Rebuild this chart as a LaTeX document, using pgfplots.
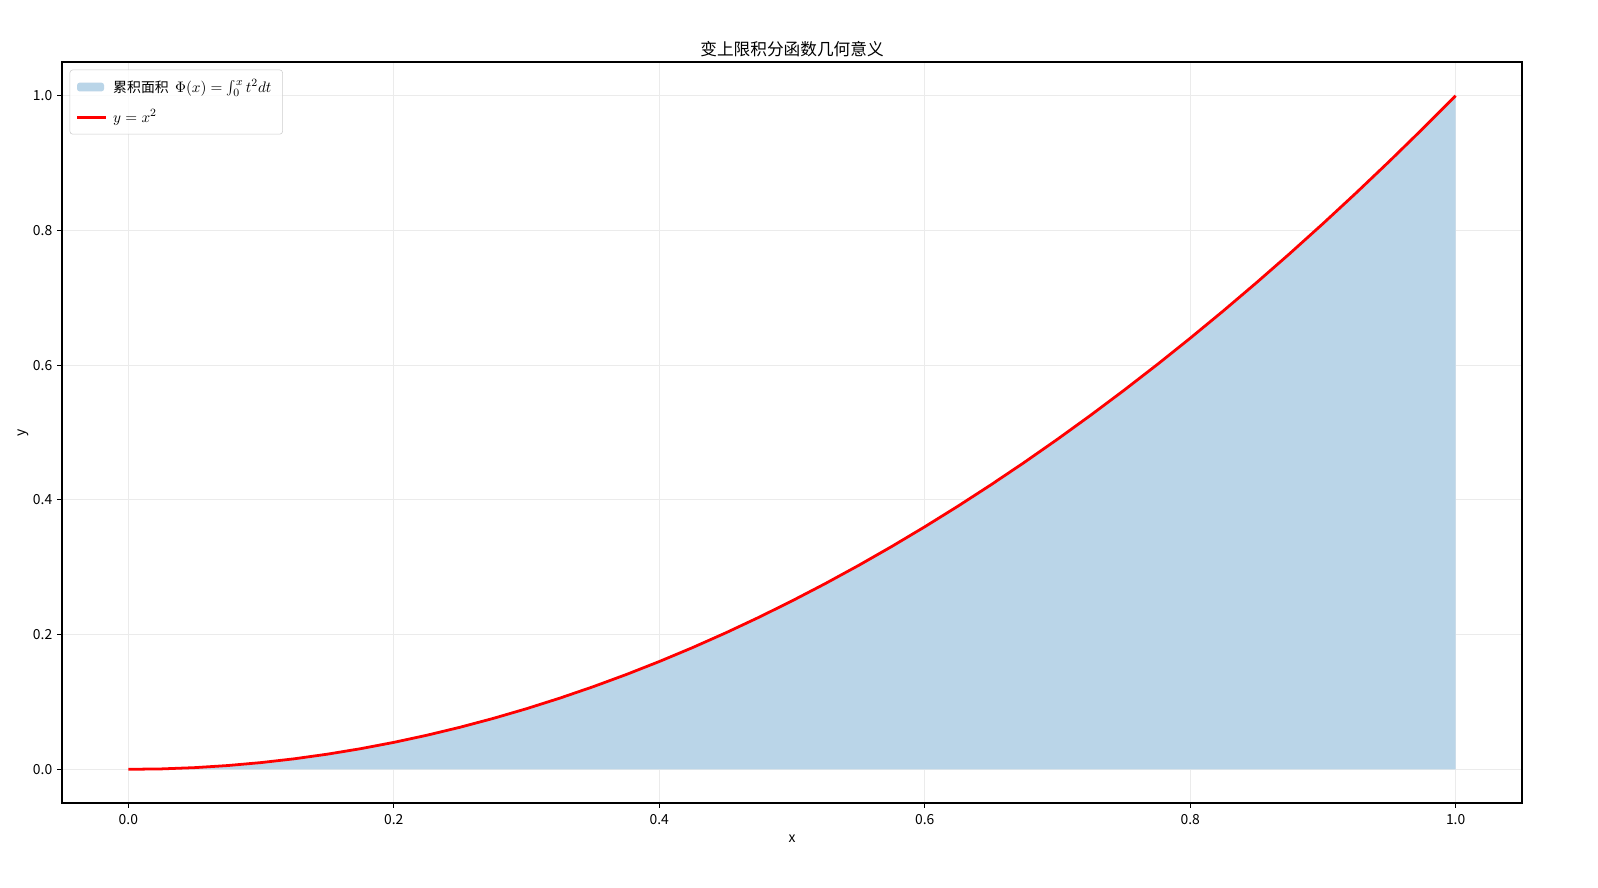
\documentclass[border=0pt]{standalone}
\usepackage{pgfplots}
\usepackage{pgfplotstable}
\pgfplotsset{compat=1.18}
\usepackage{fontspec}
\setmainfont{Noto Sans CJK SC}
\setsansfont{Noto Sans CJK SC}

\definecolor{areablue}{HTML}{BAD5E8}
\definecolor{gridgray}{HTML}{EBEBEB}

% y = x^2, sampled on [0,1]
\pgfplotstableread{
x y
0 0
0.025 0.000625
0.05 0.0025
0.075 0.005625
0.1 0.01
0.125 0.015625
0.15 0.0225
0.175 0.030625
0.2 0.04
0.225 0.050625
0.25 0.0625
0.275 0.075625
0.3 0.09
0.325 0.105625
0.35 0.1225
0.375 0.140625
0.4 0.16
0.425 0.180625
0.45 0.2025
0.475 0.225625
0.5 0.25
0.525 0.275625
0.55 0.3025
0.575 0.330625
0.6 0.36
0.625 0.390625
0.65 0.4225
0.675 0.455625
0.7 0.49
0.725 0.525625
0.75 0.5625
0.775 0.600625
0.8 0.64
0.825 0.680625
0.85 0.7225
0.875 0.765625
0.9 0.81
0.925 0.855625
0.95 0.9025
0.975 0.950625
1 1
}\curve

\begin{document}
\begin{tikzpicture}
\path[use as bounding box] (-44.64pt,-61.2pt) rectangle (1105.92pt,578.16pt);
\begin{axis}[
    at={(0,0)}, anchor=south west,
    scale only axis,
    width=1051.2pt, height=533.5pt,
    xmin=-0.05, xmax=1.05,
    ymin=-0.05, ymax=1.05,
    xtick={0,0.2,0.4,0.6,0.8,1.0},
    ytick={0,0.2,0.4,0.6,0.8,1.0},
    /pgf/number format/assume math mode=true,
    /pgf/number format/fixed,
    /pgf/number format/fixed zerofill,
    /pgf/number format/precision=1,
    tick label style={font=\fontsize{10}{12}\selectfont},
    xticklabel style={yshift=-1.5pt},
    tick align=outside,
    major tick length=3.5pt,
    xtick pos=bottom, ytick pos=left,
    axis line style={line width=0.8pt},
    tick style={line width=0.8pt, black},
    grid=major,
    major grid style={line width=0.8pt, gridgray},
    xlabel={x}, ylabel={y},
    label style={font=\fontsize{10}{12}\selectfont},
    ylabel style={yshift=-4pt},
    title={变上限积分函数几何意义},
    title style={font=\fontsize{12}{14}\selectfont, yshift=-6pt},
    legend cell align=left,
    legend style={
        at={(0,1)}, anchor=north west,
        xshift=5.5pt, yshift=-5.5pt,
        draw=gray!40, rounded corners=2pt,
        fill=white, fill opacity=0.8, draw opacity=1, text opacity=1,
        font=\fontsize{10}{12}\selectfont,
        row sep=7pt, inner xsep=4pt, inner ysep=5pt,
        nodes={inner xsep=4pt},
    },
]
\addplot[fill=areablue, draw=none,
    legend image code/.code={\fill[areablue, fill opacity=1] (0pt,-3.2pt) rectangle (19.5pt,3.2pt);}]
    table[x=x, y=y] {\curve} \closedcycle;
\addlegendentry{累积面积\ \ {\fontsize{11}{12}\selectfont$\Phi(x) = \int_0^x t^2 dt$}}
\addplot[red, line width=2pt,
    legend image code/.code={\draw[red, draw opacity=1, line width=2.2pt] (0pt,0pt) -- (21pt,0pt);}]
    table[x=x, y=y] {\curve};
\addlegendentry{{\fontsize{11}{12}\selectfont$y = x^2$}}
\end{axis}
\end{tikzpicture}
\end{document}
